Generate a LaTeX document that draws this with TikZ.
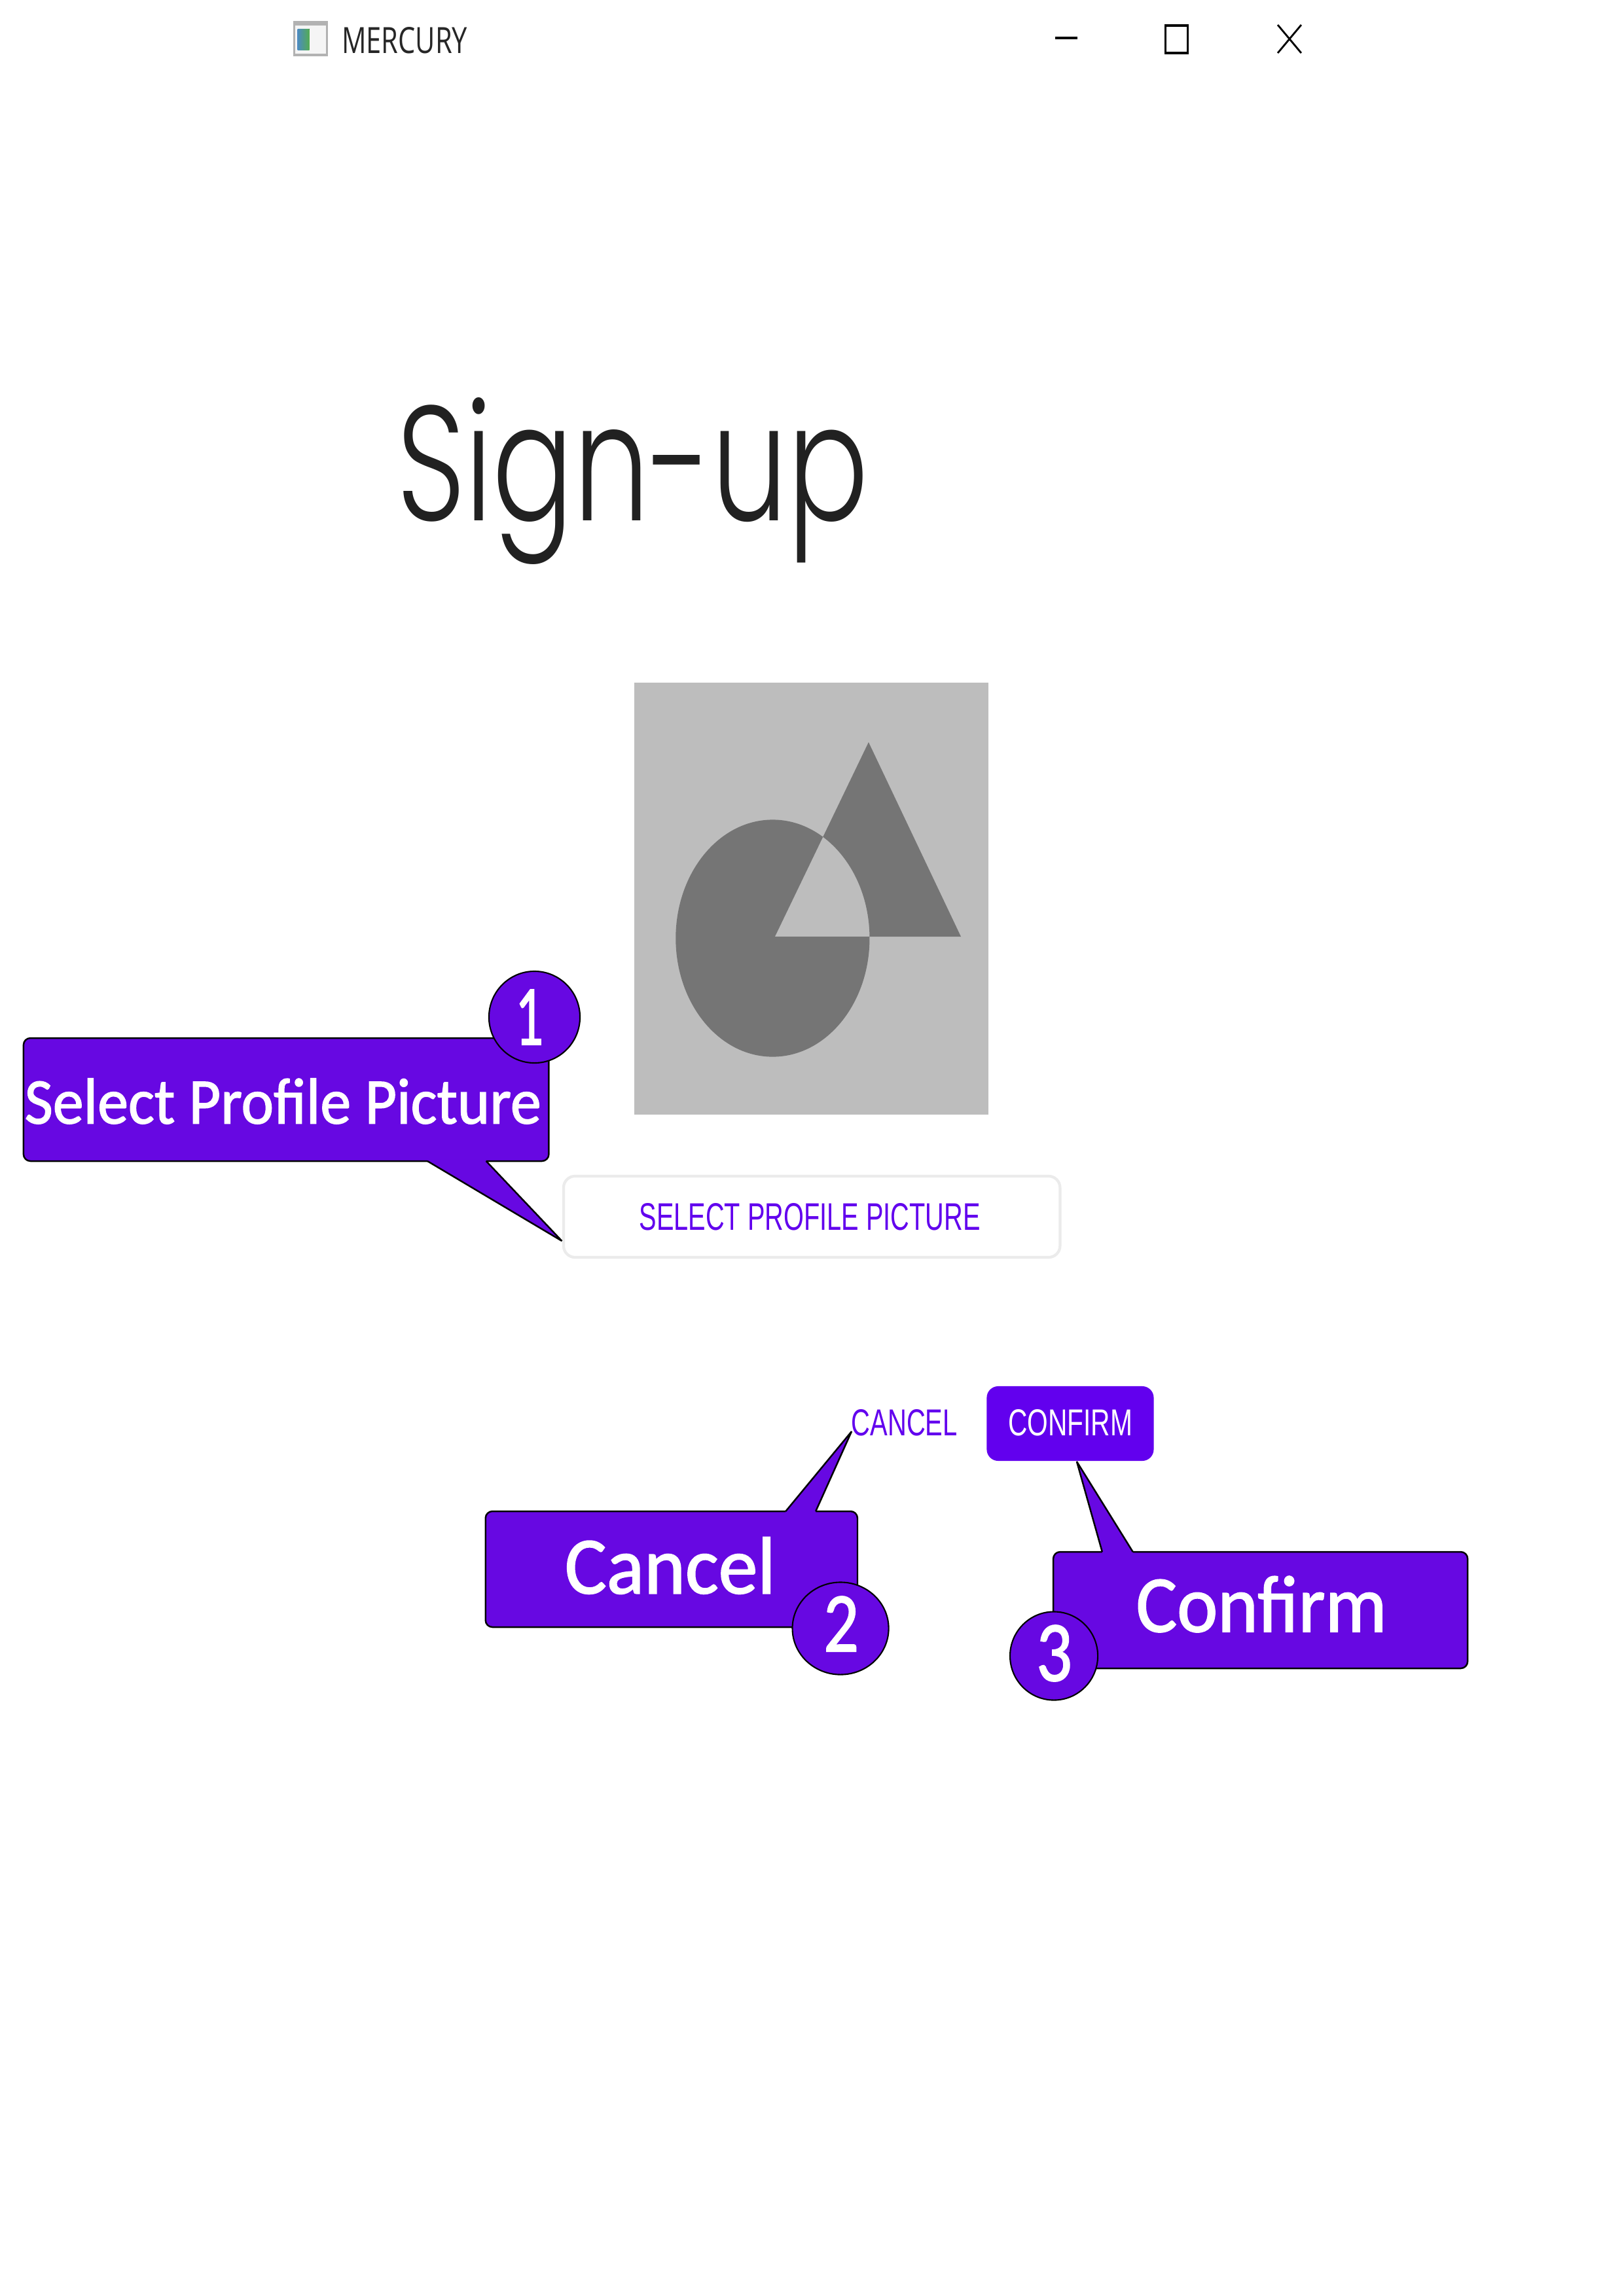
\documentclass[tikz,border=0pt]{standalone}
\usepackage{fontspec}
\usepackage{graphicx}
\usetikzlibrary{shapes.geometric}
\setmainfont{Liberation Sans}
\newfontfamily\cfont{Carlito}[FakeBold=1.5]
\newfontfamily\lfont{Poppins Light}
\newfontfamily\bfont{Liberation Sans}
\newfontfamily\tfont{Open Sans}
\definecolor{call}{HTML}{6708E2}
\definecolor{mat}{HTML}{6200EE}
\definecolor{imgbg}{HTML}{BDBDBD}
\definecolor{imgfg}{HTML}{757575}
\newlength\pxl
\setlength\pxl{0.01cm}
\newcommand{\fitbox}[3]{\resizebox{#1\pxl}{#2\pxl}{#3}}
\tikzset{
  lbl/.style={inner sep=0pt,outer sep=0pt},
  calloutbox/.style={fill=call,draw=black,line width=0.7pt,rounded corners=3pt},
  callouttail/.style={draw=black,line width=0.7pt,line join=bevel},
  badge/.style={ellipse,fill=call,draw=black,line width=0.6pt,inner sep=0pt},
  winctl/.style={draw=black,line width=1pt},
}
\begin{document}
\begin{tikzpicture}[x=0.009966cm,y=-0.01cm]
\useasboundingbox (0,0) rectangle (2488.46,3508);
\fill[white] (0,0) rectangle (2488.46,3508);
% title bar
\draw[draw=black!30,fill=black!4,line width=1pt] (451,34) rectangle (501,84);
\fill[left color=teal!70!blue!70,right color=green!35!gray] (456,44) rectangle (474,76);
\fill[black!30] (451,34) rectangle (501,39);
\node[lbl] (apptitle) at (620,62) {\fitbox{192}{40}{\tfont\color{black!85}MERCURY}};
\draw[winctl,line width=1.3pt] (1617,58) -- (1651,58);
\draw[winctl] (1786,39) rectangle (1820,81);
\draw[winctl,line width=0.8pt] (1958,38) -- (1994,81) (1994,38) -- (1958,81);
% heading
\node[lbl] (heading) at (969.5,735) {\fitbox{721}{188}{\lfont\color[HTML]{212121}Sign-up}};
% placeholder image
\fill[imgbg] (972,1043) rectangle (1515,1703);
\fill[imgfg,even odd rule] (1184,1433.5) ellipse [x radius=1.48cm,y radius=1.81cm]
  (1331,1134) -- (1472.5,1431) -- (1187.5,1431) -- cycle;
% select button
\node[lbl,draw=black!8,line width=1.2pt,fill=white,rounded corners=5pt,minimum width=7.58cm,minimum height=1.24cm] (selbtn) at (1244,1859) {};
\node[lbl] (seltxt) at (1241,1859.5) {\fitbox{521}{41}{\bfont\color{mat}SELECT PROFILE PICTURE}};
% cancel / confirm
\node[lbl] (cancelbtn) at (1386,2174) {\fitbox{162}{40}{\bfont\color{mat}CANCEL}};
\node[lbl,fill=mat,rounded corners=5pt,minimum width=2.55cm,minimum height=1.14cm] (confirmbtn) at (1640,2175) {};
\node[lbl] (confirmtxt) at (1640,2174) {\fitbox{190}{40}{\bfont\color{white}CONFIRM}};
% callout 1
\coordinate (tip1) at (861,1896);
\coordinate (a1) at (655,1774);
\coordinate (c1) at (745,1774);
\draw[calloutbox] (36,1586) rectangle (841,1774);
\fill[call] (a1) -- (tip1) -- (c1) -- ([yshift=0.05cm]c1) -- ([yshift=0.05cm]a1) -- cycle;
\draw[callouttail] (a1) -- (tip1) -- (c1);
\node[lbl] (t1) at (433.5,1682.5) {\fitbox{789}{69}{\cfont\color{white}Select Profile Picture}};
\node[badge,minimum width=1.39cm,minimum height=1.40cm] (b1) at (819,1554) {};
\node[lbl] (n1) at (811,1554) {\fitbox{43}{84}{\cfont\color{white}1}};
% callout 2
\coordinate (tip2) at (1305,2187);
\coordinate (a2) at (1204,2309);
\coordinate (c2) at (1250,2309);
\draw[calloutbox] (744,2309) rectangle (1314,2486);
\fill[call] (a2) -- (tip2) -- (c2) -- ([yshift=-0.05cm]c2) -- ([yshift=-0.05cm]a2) -- cycle;
\draw[callouttail] (a2) -- (tip2) -- (c2);
\node[lbl] (t2) at (1027,2392) {\fitbox{322}{86}{\cfont\color{white}Cancel}};
\node[badge,minimum width=1.47cm,minimum height=1.41cm] (b2) at (1288,2488) {};
\node[lbl] (n2) at (1289,2481) {\fitbox{54}{84}{\cfont\color{white}2}};
% callout 3
\coordinate (tip3) at (1650,2233);
\coordinate (a3) at (1689,2371);
\coordinate (c3) at (1736,2371);
\draw[calloutbox] (1614,2371) rectangle (2249,2549);
\fill[call] (a3) -- (tip3) -- (c3) -- ([yshift=-0.05cm]c3) -- ([yshift=-0.05cm]a3) -- cycle;
\draw[callouttail] (a3) -- (tip3) -- (c3);
\node[lbl] (t3) at (1933,2451) {\fitbox{383}{85}{\cfont\color{white}Confirm}};
\node[badge,minimum width=1.34cm,minimum height=1.35cm] (b3) at (1615,2530) {};
\node[lbl] (n3) at (1615.5,2526) {\fitbox{55}{85}{\cfont\color{white}3}};
\end{tikzpicture}
\end{document}
